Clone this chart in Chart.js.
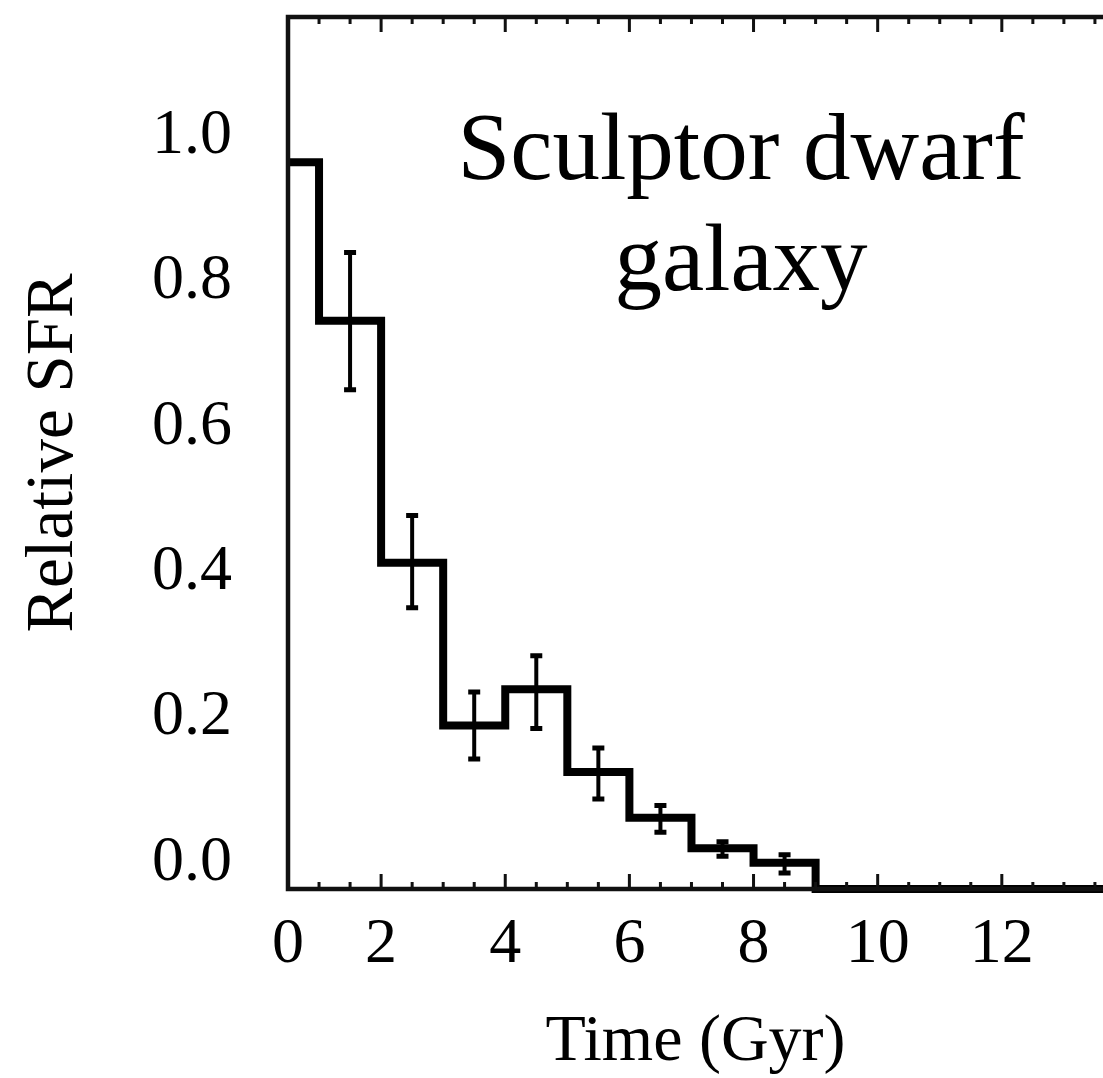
<!DOCTYPE html>
<html>
<head>
<meta charset="utf-8">
<title>Sculptor dwarf galaxy SFR</title>
<script src="https://cdn.jsdelivr.net/npm/chart.js@4"></script>
<style>
  html, body { margin: 0; padding: 0; background: #fff; }
  #wrap { width: 1103px; height: 1078px; }
</style>
</head>
<body>
<div id="wrap"><canvas id="sfrChart"></canvas></div>
<script>
// left edge of each 1 Gyr bin and the relative SFR in it
const binStart = [0, 1, 2, 3, 4, 5, 6, 7, 8, 9];
const sfr = [1.0, 0.782, 0.449, 0.225, 0.275, 0.161, 0.098, 0.056, 0.036, 0];
// error bar ends (null = no bar)
const errHigh = [null, 0.876, 0.514, 0.271, 0.321, 0.194, 0.115, 0.065, 0.047, null];
const errLow = [null, 0.687, 0.387, 0.179, 0.221, 0.124, 0.078, 0.045, 0.022, null];

const xTickValues = [0.5, 2, 4, 6, 8, 10, 12];
const xTickLabels = ["0", "2", "4", "6", "8", "10", "12"];
const yTickValues = [0, 0.2, 0.4, 0.6, 0.8, 1.0];
const xRange = [0.5, 13.63];
const yRange = [0, 1.2];

const minorStep = 0.5;
const majorStep = 2;
const FONT = "'Liberation Serif', 'DejaVu Serif', serif";

const stepPoints = binStart.map((x, i) => ({ x, y: sfr[i] }));
stepPoints.push({ x: xRange[1], y: 0 });

// black frame (left, top, bottom) with inward ticks on top and bottom
const framePlugin = {
  id: "frame",
  afterDatasetsDraw(chart) {
    const { ctx, chartArea: a, scales } = chart;
    const x = scales.x;
    ctx.save();
    ctx.strokeStyle = "#111";
    ctx.lineWidth = 4.5;
    ctx.beginPath();
    ctx.moveTo(a.right + 2, a.top);
    ctx.lineTo(a.left, a.top);
    ctx.lineTo(a.left, a.bottom);
    ctx.lineTo(a.right + 2, a.bottom);
    ctx.stroke();

    ctx.lineWidth = 3;
    ctx.beginPath();
    for (let v = minorStep * 2; v <= xRange[1]; v += minorStep) {
      const px = x.getPixelForValue(v);
      const len = v % majorStep === 0 ? 15 : 7;
      ctx.moveTo(px, a.bottom);
      ctx.lineTo(px, a.bottom - len);
      ctx.moveTo(px, a.top);
      ctx.lineTo(px, a.top + len);
    }
    ctx.stroke();
    ctx.restore();
  },
};

// vertical error bars at bin centres
const errorBarPlugin = {
  id: "errorBars",
  afterDatasetsDraw(chart) {
    const { ctx, scales } = chart;
    ctx.save();
    ctx.strokeStyle = "#000";
    binStart.forEach((b, i) => {
      if (errHigh[i] == null) return;
      const px = scales.x.getPixelForValue(b + 0.5);
      const top = scales.y.getPixelForValue(errHigh[i]);
      const bot = scales.y.getPixelForValue(errLow[i]);
      ctx.lineWidth = 4;
      ctx.beginPath();
      ctx.moveTo(px, top);
      ctx.lineTo(px, bot);
      ctx.stroke();
      ctx.lineWidth = 5;
      ctx.beginPath();
      ctx.moveTo(px - 6, top);
      ctx.lineTo(px + 6, top);
      ctx.moveTo(px - 6, bot);
      ctx.lineTo(px + 6, bot);
      ctx.stroke();
    });
    ctx.restore();
  },
};

const labelPlugin = {
  id: "galaxyLabel",
  afterDraw(chart) {
    const ctx = chart.ctx;
    ctx.save();
    ctx.fillStyle = "#000";
    ctx.font = `95px ${FONT}`;
    ctx.textAlign = "center";
    ctx.textBaseline = "alphabetic";
    ctx.fillText("Sculptor dwarf", 741, 179);
    ctx.fillText("galaxy", 741, 290);
    ctx.restore();
  },
};

const ctx = document.getElementById("sfrChart").getContext("2d");
const sfrChart = new Chart(ctx, {
  type: "line",
  data: {
    datasets: [
      {
        data: stepPoints,
        stepped: "before",
        borderColor: "#000",
        borderWidth: 8,
        pointRadius: 0,
        fill: false,
        clip: { left: 0, top: 0, right: 0, bottom: 6 },
      },
    ],
  },
  options: {
    responsive: true,
    maintainAspectRatio: false,
    animation: false,
    layout: { padding: { top: 17, left: 0, right: 0, bottom: 0 } },
    plugins: {
      legend: { display: false },
      tooltip: { enabled: false },
    },
    scales: {
      x: {
        type: "linear",
        min: xRange[0],
        max: xRange[1],
        afterBuildTicks: (scale) => {
          scale.ticks = xTickValues.map((value) => ({ value }));
        },
        afterFit: (scale) => {
          scale.height = 189;
          scale.paddingLeft = 0;
          scale.paddingRight = 0;
        },
        ticks: {
          autoSkip: false,
          maxRotation: 0,
          padding: 18,
          color: "#000",
          font: { family: FONT, size: 64 },
          callback: (value, index) => xTickLabels[index],
        },
        grid: { display: false, drawTicks: false },
        border: { display: false },
        title: {
          display: true,
          text: "Time (Gyr)",
          color: "#000",
          font: { family: FONT, size: 66 },
          padding: { top: 0, bottom: -4 },
        },
      },
      y: {
        type: "linear",
        min: yRange[0],
        max: yRange[1],
        afterBuildTicks: (scale) => {
          scale.ticks = yTickValues.map((value) => ({ value }));
        },
        afterFit: (scale) => {
          scale.width = 288;
          scale.paddingTop = 0;
          scale.paddingBottom = 0;
        },
        ticks: {
          padding: 56,
          labelOffset: -26,
          color: "#000",
          font: { family: FONT, size: 64 },
          callback: (value) => value.toFixed(1),
        },
        grid: { display: false, drawTicks: false },
        border: { display: false },
        title: {
          display: true,
          text: "Relative SFR",
          color: "#000",
          font: { family: FONT, size: 67 },
          padding: { top: 14, bottom: 0 },
        },
      },
    },
  },
  plugins: [framePlugin, errorBarPlugin, labelPlugin],
});
</script>
</body>
</html>
